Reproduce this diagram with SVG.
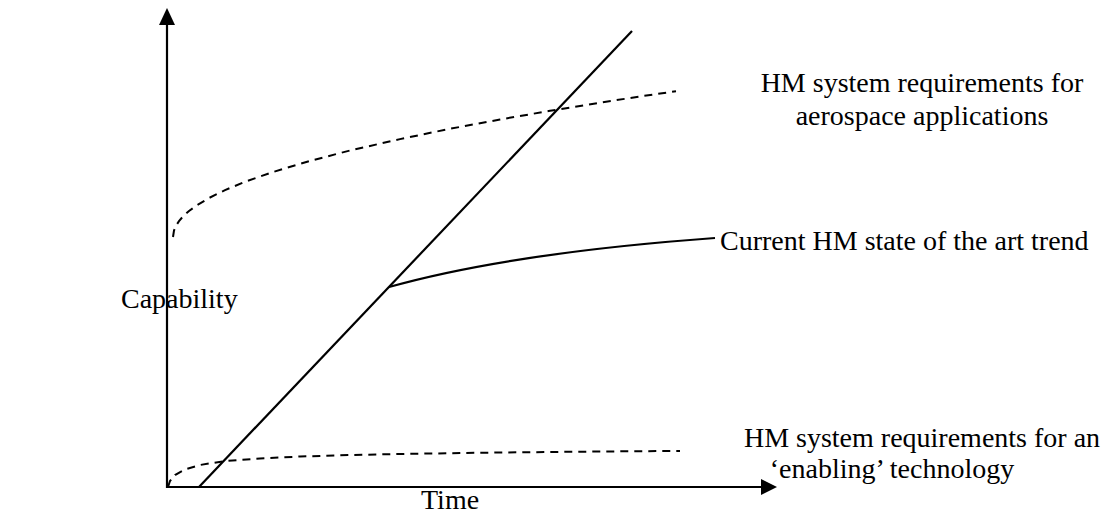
<svg xmlns="http://www.w3.org/2000/svg" width="1110" height="517" viewBox="0 0 1110 517">
<style>
.t{font-family:"Liberation Serif","Times New Roman",serif;font-size:28px;fill:#000}
.s{fill:none;stroke:#000;stroke-width:2.2}
.d{fill:none;stroke:#000;stroke-width:2;stroke-dasharray:8,6}
</style>
<rect width="1110" height="517" fill="#fff"/>
<g id="axes">
<line class="s" x1="167" y1="488" x2="167" y2="24"/>
<polygon points="167,8 159,25 175,25" fill="#000"/>
<line class="s" x1="166" y1="487" x2="762" y2="487"/>
<polygon points="777,487 761,479 761,495" fill="#000"/>
</g>
<g id="connectors">
<line class="s" x1="199" y1="487" x2="632" y2="31"/>
<path class="s" d="M389,287 Q510,253 715,238"/>
<polyline class="d" points="173,237 174,230.5 176,225.7 179,221.1 183,216.4 189,211 197,205.2 209,198 225,190.1 245,181.8 273,172 310,160.9 350,150.5 400,139.1 450,128.8 500,119.5 550,110.8 600,102.7 640,96.5 676,91.2"/>
<polyline class="d" points="168,487 170,481 175,475 185,469.5 200,465 225,461 260,458.5 300,456.5 350,455 400,454 450,453.2 500,452.5 550,452 600,451.5 640,451.2 680,451"/>
</g>
<g id="label-aerospace">
<text class="t" x="922" y="92" text-anchor="middle">HM system requirements for</text>
<text class="t" x="922" y="125" text-anchor="middle">aerospace applications</text>
</g>
<g id="label-current">
<text class="t" x="720" y="250">Current HM state of the art trend</text>
</g>
<g id="label-enabling">
<text class="t" x="922" y="447" text-anchor="middle">HM system requirements for an</text>
<text class="t" x="892" y="478" text-anchor="middle">‘enabling’ technology</text>
</g>
<g id="label-capability">
<text class="t" x="121" y="308">Capability</text>
</g>
<g id="label-time">
<text class="t" x="421" y="509">Time</text>
</g>
</svg>
